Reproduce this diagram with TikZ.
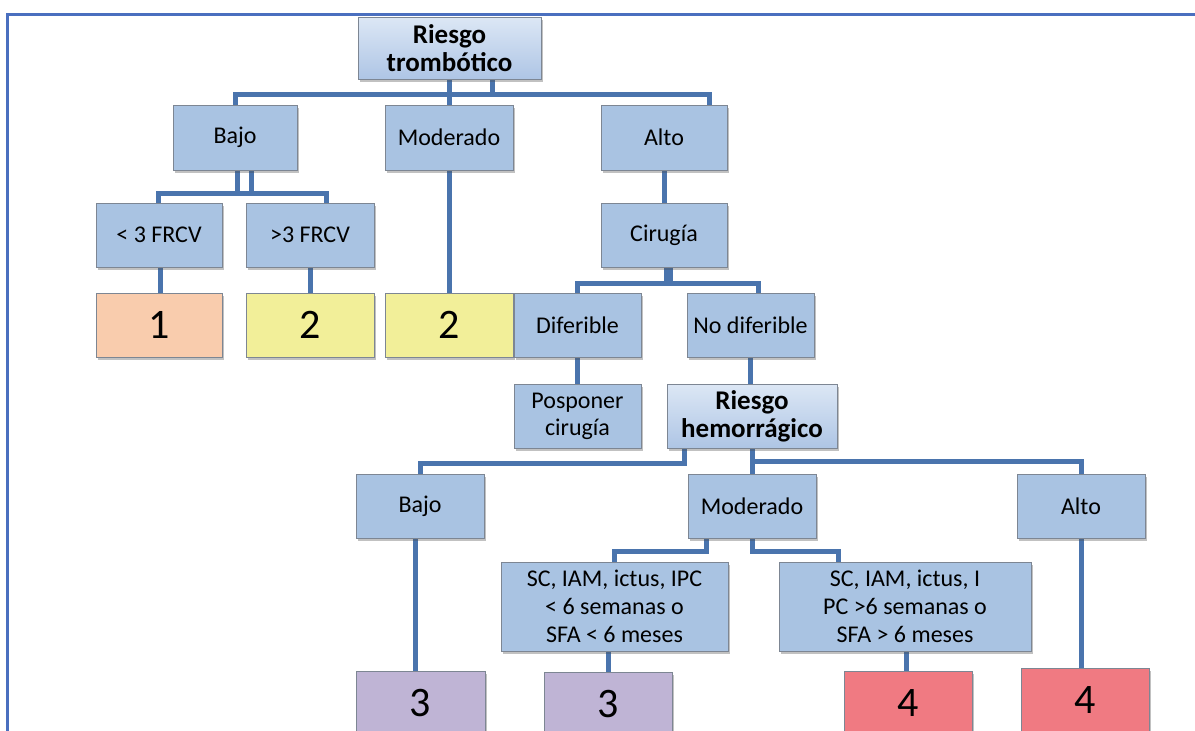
\documentclass[tikz,border=0pt]{standalone}
\usepackage{fontspec}
\setmainfont{Carlito}
\usetikzlibrary{shadows,backgrounds}

\definecolor{boxfill}{HTML}{A9C3E2}
\definecolor{boxedge}{HTML}{7D8693}
\definecolor{headtop}{HTML}{DCE7F5}
\definecolor{headbot}{HTML}{AEC5E5}
\definecolor{conncol}{HTML}{4A74AD}
\definecolor{framecol}{HTML}{4A6FBF}
\definecolor{peach}{HTML}{F9CCAD}
\definecolor{lemon}{HTML}{F2EF99}
\definecolor{lilac}{HTML}{BFB4D5}
\definecolor{rose}{HTML}{F07A82}

\tikzset{
  box/.style={draw=boxedge, line width=0.9pt, fill=boxfill, align=center,
    inner sep=2pt, font=\fontsize{24}{27}\selectfont,
    drop shadow={shadow xshift=2pt, shadow yshift=-3pt, opacity=0.35, fill=black!70}},
  headbox/.style={box, top color=headtop, bottom color=headbot,
    font=\bfseries\fontsize{27}{28}\selectfont},
  result/.style={box, font=\fontsize{42}{44}\selectfont},
  conn/.style={draw=conncol, line width=5pt, line join=miter},
  frameline/.style={draw=framecol, line width=2.2pt}
}

\begin{document}
\begin{tikzpicture}[x=1pt,y=-1pt]
\useasboundingbox (0,0) rectangle (1195,731);

% outer frame (left and top edges)
\draw[frameline] (7.5,740) -- (7.5,14.5) -- (1195,14.5);

% thrombotic risk branch
\node[headbox, minimum width=183pt, minimum height=62pt] (root) at (449.5,48) {Riesgo\\trombótico};
\node[box, minimum width=124pt, minimum height=65pt] (bajoA) at (235,137.5) {Bajo};
\node[box, minimum width=128pt, minimum height=65pt] (modA) at (449,137.5) {Moderado};
\node[box, minimum width=126pt, minimum height=65pt] (altoA) at (664,137.5) {Alto};
\node[box, minimum width=126pt, minimum height=64pt] (frcvLo) at (159,235) {< 3 FRCV};
\node[box, minimum width=128pt, minimum height=64pt] (frcvHi) at (310,235) {>3 FRCV};
\node[box, minimum width=126pt, minimum height=64pt] (cir) at (664,235) {Cirugía};
\node[result, fill=peach, minimum width=126pt, minimum height=64pt] (r1) at (159,325) {1};
\node[result, fill=lemon, minimum width=128pt, minimum height=64pt] (r2a) at (310,325) {2};
\node[result, fill=lemon, minimum width=128pt, minimum height=64pt] (r2b) at (449,325) {2};
\node[box, minimum width=127pt, minimum height=64pt] (dif) at (577.5,325) {Diferible};
\node[box, minimum width=127pt, minimum height=64pt] (nodif) at (750.5,325) {No diferible};
\node[box, minimum width=127pt, minimum height=64pt] (posp) at (577.5,416) {Posponer\\cirugía};

% bleeding risk branch
\node[headbox, minimum width=170pt, minimum height=64pt] (rh) at (752,416) {Riesgo\\hemorrágico};
\node[box, minimum width=128pt, minimum height=64pt] (bajoB) at (420,506) {Bajo};
\node[box, minimum width=128pt, minimum height=64pt] (modB) at (752,506) {Moderado};
\node[box, minimum width=128pt, minimum height=64pt] (altoB) at (1081,506) {Alto};
\node[box, minimum width=227pt, minimum height=89pt, font=\fontsize{24}{28}\selectfont] (scLo) at (614.5,606.5)
  {SC, IAM, ictus, IPC\\< 6 semanas o\\SFA < 6 meses};
\node[box, minimum width=252pt, minimum height=89pt, font=\fontsize{24}{28}\selectfont] (scHi) at (905,606.5)
  {SC, IAM, ictus, I\\PC >6 semanas o\\SFA > 6 meses};
\node[result, fill=lilac, minimum width=129pt, minimum height=64pt] (r3a) at (420.5,703) {3};
\node[result, fill=lilac, minimum width=128pt, minimum height=64pt] (r3b) at (608,704) {3};
\node[result, fill=rose, minimum width=128pt, minimum height=64pt] (r4a) at (908,703) {4};
\node[result, fill=rose, minimum width=128pt, minimum height=64pt] (r4b) at (1085,700) {4};

% bar heights of the connectors
\coordinate (barA) at (0,94);
\coordinate (barB) at (0,193);
\coordinate (barC) at (0,283);
\coordinate (barD) at (0,463);
\coordinate (barE) at (0,461);
\coordinate (barF) at (0,551);

\begin{pgfonlayer}{background}
  % root to first level
  \draw[conn] (root.south -| modA.north) -- (modA.north);
  \draw[conn] ([xshift=42.5pt]root.south) -- ([xshift=42.5pt]root.south |- barA);
  \draw[conn] (bajoA.north) -- (bajoA.north |- barA) -- ([xshift=45pt]altoA.north |- barA) -- ([xshift=45pt]altoA.north);
  % low thrombotic risk
  \draw[conn] ([xshift=2pt]bajoA.south) -- ([xshift=2pt]bajoA.south |- barB);
  \draw[conn] ([xshift=16pt]bajoA.south) -- ([xshift=16pt]bajoA.south |- barB);
  \draw[conn] ([xshift=-1pt]frcvLo.north) -- ([xshift=-1pt]frcvLo.north |- barB)
    -- ([xshift=16pt]frcvHi.north |- barB) -- ([xshift=16pt]frcvHi.north);
  \draw[conn] ([xshift=1pt]frcvLo.south) -- ([xshift=1pt]r1.north);
  \draw[conn] (frcvHi.south) -- (r2a.north);
  % moderate thrombotic risk
  \draw[conn] (modA.south) -- (r2b.north);
  % high thrombotic risk
  \draw[conn] (altoA.south) -- (cir.north);
  \draw[conn, line width=9pt] ([xshift=4pt]cir.south) -- ([xshift=4pt]cir.south |- barC);
  \draw[conn] (dif.north) -- (dif.north |- barC) -- ([xshift=7.5pt]nodif.north |- barC) -- ([xshift=7.5pt]nodif.north);
  \draw[conn] (dif.south) -- (posp.north);
  \draw[conn] (nodif.south) -- (nodif.south |- rh.north);
  % bleeding risk
  \draw[conn] ([xshift=-68pt]rh.south) -- ([xshift=-68pt]rh.south |- barD) -- (bajoB.north |- barD) -- (bajoB.north);
  \draw[conn] (rh.south) -- (modB.north);
  \draw[conn] (rh.south |- barE) -- (altoB.north |- barE) -- (altoB.north);
  \draw[conn] ([xshift=-4.5pt]bajoB.south) -- ([xshift=-4.5pt]bajoB.south |- r3a.north);
  \draw[conn] ([xshift=-46pt]modB.south) -- ([xshift=-46pt]modB.south |- barF) -- (scLo.north |- barF) -- (scLo.north);
  \draw[conn] (modB.south) -- (modB.south |- barF) -- ([xshift=-67pt]scHi.north |- barF) -- ([xshift=-67pt]scHi.north);
  \draw[conn] (r3b.north |- scLo.south) -- (r3b.north);
  \draw[conn] ([xshift=-2pt]r4a.north |- scHi.south) -- ([xshift=-2pt]r4a.north);
  \draw[conn] (altoB.south) -- (altoB.south |- r4b.north);
\end{pgfonlayer}
\end{tikzpicture}
\end{document}
